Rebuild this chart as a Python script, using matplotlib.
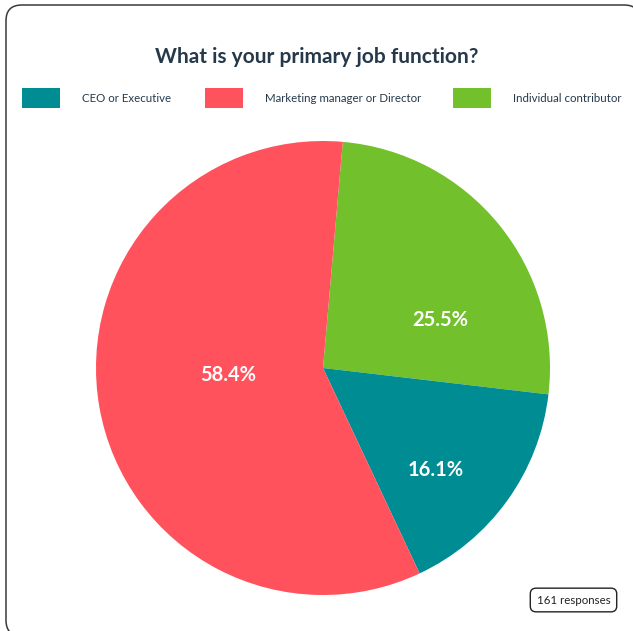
import matplotlib
matplotlib.use("Agg")
import matplotlib.pyplot as plt
from matplotlib.patches import FancyBboxPatch, Rectangle

plt.rcParams['font.family'] = ['Lato', 'DejaVu Sans']

# survey answers (161 responses)
categories = ['CEO or Executive', 'Marketing manager or Director', 'Individual contributor']
counts = [26, 94, 41]
colors = ['#008c93', '#ff525d', '#72c02c']
total_label = '161 responses'

W, H = 633, 631
fig = plt.figure(figsize=(W / 100, H / 100), dpi=100)

def fx(px):
    return px / W

def fy(py):
    return 1 - py / H

# card outline
card = FancyBboxPatch((fx(6), fy(636)), fx(640) - fx(6), fy(5) - fy(636),
                      boxstyle='round,pad=0,rounding_size=0.025',
                      transform=fig.transFigure, facecolor='white',
                      edgecolor='#3a3a3a', linewidth=1.1, zorder=-2)
fig.patches.append(card)

fig.text(fx(317), fy(57), 'What is your primary job function?', ha='center', va='center',
         fontsize=15, fontweight='bold', color='#26394a')

# legend
legend_x = [22, 205, 453]
for x, name, c in zip(legend_x, categories, colors):
    fig.patches.append(Rectangle((fx(x), fy(108)), fx(38), fy(88) - fy(108),
                                 transform=fig.transFigure, facecolor=c, edgecolor='none'))
    fig.text(fx(x + 60), fy(98), name, ha='left', va='center', fontsize=8.3, color='#26394a')

# pie: green first, clockwise from just right of 12 o'clock
order = [2, 0, 1]
cx, cy, r = 323, 368, 227
ax = fig.add_axes([fx(cx - r), fy(cy + r), fx(2 * r), fy(cy - r) - fy(cy + r)])
wedges, texts, autotexts = ax.pie([counts[i] for i in order], colors=[colors[i] for i in order],
                                  startangle=85, counterclock=False, radius=1,
                                  autopct='%1.1f%%', pctdistance=0.6,
                                  textprops=dict(color='white', fontsize=14.5, fontweight='bold'))
ax.set_xlim(-1, 1)
ax.set_ylim(-1, 1)
ax.axis('off')

# label positions inside each slice (x, y in radius units)
label_pos = [(117 / r, 48 / r), (113 / r, -102 / r), (-95 / r, -7 / r)]
for t, (lx, ly) in zip(autotexts, label_pos):
    t.set_position((lx, ly))

# response count box
fig.text(fx(573.5), fy(600), total_label, ha='center', va='center', fontsize=8.3, color='#222222',
         bbox=dict(boxstyle='round,pad=0.55,rounding_size=0.5', facecolor='white',
                   edgecolor='#222222', linewidth=1.0))

fig.savefig('out.png', dpi=100)
